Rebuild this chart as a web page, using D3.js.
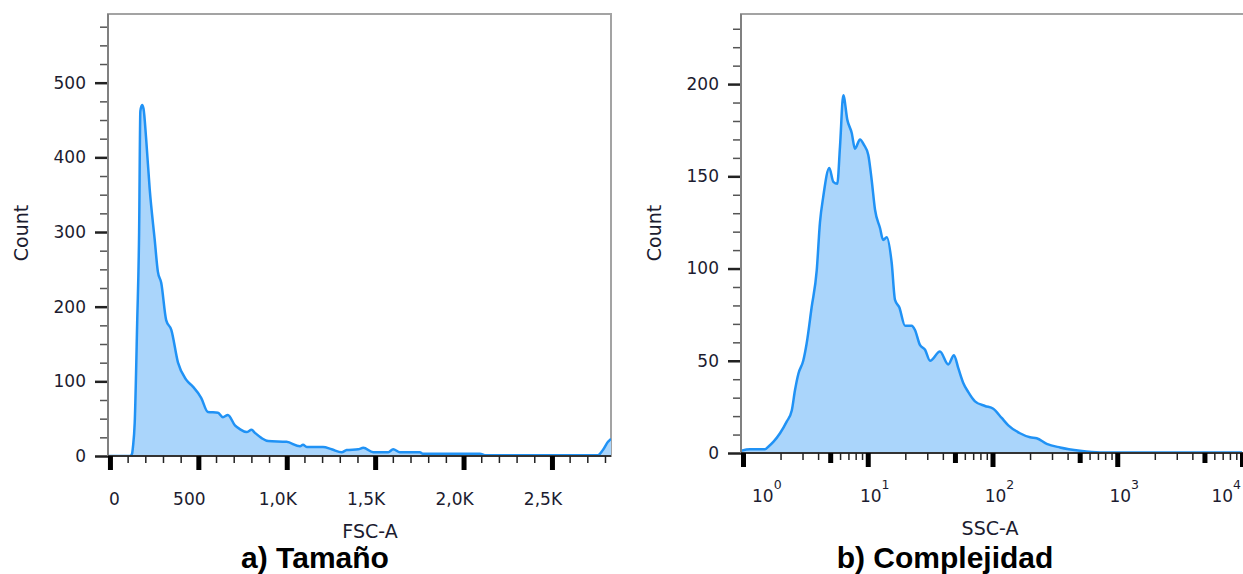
<!DOCTYPE html>
<html>
<head>
<meta charset="utf-8">
<script src="https://cdn.jsdelivr.net/npm/d3@7"></script>
<style>
  body { margin: 0; background: #fff; }
  svg { display: block; }
  .tick-label { font-family: "DejaVu Sans", sans-serif; font-size: 17px; fill: #1c1c30; }
  .axis-title { font-family: "DejaVu Sans", sans-serif; font-size: 19px; fill: #1c1c30; }
  .panel-title { font-family: "Liberation Sans", Arial, sans-serif; font-size: 30px; font-weight: bold; fill: #000; }
</style>
</head>
<body>
<div id="chart"></div>
<script>
// FSC-A histogram (linear channel values / counts)
const fscValues = [-11, 60, 113, 125, 130, 140, 154, 165, 172, 182, 190, 205, 225, 253, 271, 290, 318, 347, 385, 432,
  469, 516, 554, 611, 639, 667, 707, 735, 773, 801, 820, 858, 895, 999, 1075, 1092, 1113, 1205, 1254, 1311,
  1339, 1404, 1433, 1489, 1574, 1602, 1640, 1753, 1770, 2093, 2121, 2760, 2788, 2817, 2834];
const fscCounts = [0, 0, 0, 3, 12, 44, 178, 300, 462, 470, 465, 424, 357, 290, 247, 232, 182, 169, 125, 102,
  93, 78, 59, 58, 52, 55, 41, 36, 32, 35, 31, 24, 20, 19, 13, 15, 12, 12, 9, 5,
  8, 9, 11, 5, 5, 9, 5, 5, 3, 3, 1, 1, 8, 19, 23];

// SSC-A histogram (log channel values / counts)
const sscValues = [0.965, 1.138, 1.50, 1.595, 1.75, 1.98, 2.24, 2.46, 2.61, 2.78, 3.04, 3.24, 3.55, 3.90, 4.14, 4.40,
  4.92, 5.30, 5.70, 5.99, 6.37, 6.86, 7.44, 7.90, 8.67, 9.33, 10.1, 10.75, 11.43, 12.54, 13.3, 14.19, 15.56, 16.54,
  17.9, 19.9, 22.5, 23.9, 26.2, 28.8, 31.6, 37.9, 44.2, 49.1, 53.2, 58.3, 64.0, 72.4, 87.1, 101.5, 118.5, 133.9,
  166, 200, 226, 272, 348, 503, 727, 10000];
const sscCounts = [1.2, 2, 2, 3.4, 6, 10.7, 17, 23, 34, 43, 50, 59.5, 79, 99, 125, 139,
  154.5, 147, 146, 166, 194, 180.6, 173.5, 165, 170, 167, 161.6, 148, 132, 122, 115.5, 117, 103, 83,
  79, 69, 69, 66.7, 58.6, 56, 50, 55, 48, 53, 46, 38, 33, 28, 25.5, 24, 19, 15,
  10.7, 8.5, 8, 5, 3, 1.2, 0.3, 0.3];

// ticks
const fscTicks = [0, 500, 1000, 1500, 2000, 2500];
const fscTickLabels = ['0', '500', '1,0K', '1,5K', '2,0K', '2,5K'];
const fscCountTicks = [0, 100, 200, 300, 400, 500];
const sscTicks = [1, 10, 100, 1000, 10000];
const sscTickExponents = ['0', '1', '2', '3', '4'];
const sscCountTicks = [0, 50, 100, 150, 200];

const lineColor = '#2092f5';
const fillColor = '#aad5fb';

const $svg = d3.select('#chart').append('svg')
  .attr('width', 1243)
  .attr('height', 574);

// ---------- panel a) ----------
const a = { left: 108, top: 14, right: 611, bottom: 456 };

const xA = d3.scaleLinear().domain([-11, 2834]).range([a.left, a.right]);
const yA = d3.scaleLinear().domain([0, 592]).range([a.bottom, a.top]);

const xMinorA = d3.range(100, 2900, 100).filter(v => v % 500 !== 0);
const yMinorA = d3.range(25, 600, 25).filter(v => v % 100 !== 0);

drawPanel({
  box: a, x: xA, y: yA,
  values: fscValues, counts: fscCounts,
  yMajor: fscCountTicks, yMinor: yMinorA,
  xMajor: fscTicks, xMid: [], xMinor: xMinorA,
  frameRight: a.right
});

// x tick labels, shifted left like the source software, first one kept inside the frame
fscTicks.forEach((v, i) => {
  const t = $svg.append('text').attr('class', 'tick-label').attr('y', 505).text(fscTickLabels[i]);
  const w = t.node().getComputedTextLength();
  t.attr('x', Math.max(xA(v) - 9 - w / 2, a.left + 1));
});

$svg.append('text').attr('class', 'axis-title')
  .attr('text-anchor', 'middle')
  .attr('transform', 'translate(28, 233) rotate(-90)')
  .text('Count');

$svg.append('text').attr('class', 'axis-title')
  .attr('text-anchor', 'middle')
  .attr('x', 370).attr('y', 538)
  .text('FSC-A');

$svg.append('text').attr('class', 'panel-title')
  .attr('text-anchor', 'middle')
  .attr('x', 315).attr('y', 568)
  .text('a) Tamaño');

// ---------- panel b) ----------
const b = { left: 741, top: 14, right: 1243, bottom: 453 };

const xB = d3.scaleLog().domain([Math.pow(10, -0.016), Math.pow(10, 4.008)]).range([b.left, b.right]);
const yB = d3.scaleLinear().domain([0, 238]).range([b.bottom, b.top]);

let xMinorB = [], xMidB = [];
[1, 10, 100, 1000].forEach(dec => {
  [2, 3, 4, 6, 7, 8, 9].forEach(m => xMinorB.push(m * dec));
  xMidB.push(5 * dec);
});
const yMinorB = d3.range(10, 240, 10).filter(v => v % 50 !== 0);

drawPanel({
  box: b, x: xB, y: yB,
  values: sscValues, counts: sscCounts,
  yMajor: sscCountTicks, yMinor: yMinorB,
  xMajor: sscTicks, xMid: xMidB, xMinor: xMinorB,
  frameRight: b.right + 10
});

// 10^n labels, kept inside the picture at both ends
sscTicks.forEach((v, i) => {
  const t = $svg.append('text').attr('class', 'tick-label').attr('y', 502);
  t.append('tspan').text('10');
  t.append('tspan').attr('dy', -13).style('font-size', '12.5px').text(sscTickExponents[i]);
  const w = t.node().getComputedTextLength();
  let x0 = Math.max(xB(v) + 7 - w / 2, b.left + 11);
  x0 = Math.min(x0, 1241 - w);
  t.attr('x', x0);
});

$svg.append('text').attr('class', 'axis-title')
  .attr('text-anchor', 'middle')
  .attr('transform', 'translate(661, 233) rotate(-90)')
  .text('Count');

$svg.append('text').attr('class', 'axis-title')
  .attr('text-anchor', 'middle')
  .attr('x', 990).attr('y', 535)
  .text('SSC-A');

$svg.append('text').attr('class', 'panel-title')
  .attr('text-anchor', 'middle')
  .attr('x', 945).attr('y', 568)
  .text('b) Complejidad');

function drawPanel(p) {
  const box = p.box;
  const $g = $svg.append('g');
  const clipId = 'clip' + box.left;

  $g.append('clipPath').attr('id', clipId)
    .append('rect')
    .attr('x', box.left).attr('y', box.top - 2)
    .attr('width', box.right - box.left).attr('height', box.bottom - box.top + 2);

  const pts = p.values.map((v, i) => [v, p.counts[i]]);

  const area = d3.area()
    .curve(d3.curveMonotoneX)
    .x(d => p.x(d[0]))
    .y0(p.y(0))
    .y1(d => p.y(d[1]));

  const line = d3.line()
    .curve(d3.curveMonotoneX)
    .x(d => p.x(d[0]))
    .y(d => p.y(d[1]));

  // frame
  $g.append('rect')
    .attr('x', box.left).attr('y', box.top)
    .attr('width', p.frameRight - box.left).attr('height', box.bottom - box.top)
    .style('fill', 'none')
    .style('stroke', '#a3a3a3')
    .style('stroke-width', 2);

  const $plot = $g.append('g').attr('clip-path', `url(#${clipId})`);

  $plot.append('path')
    .attr('d', area(pts))
    .style('fill', fillColor);

  // y axis
  $g.append('g')
    .attr('transform', `translate(${box.left}, 0)`)
    .call(d3.axisLeft(p.y).tickValues(p.yMinor).tickSize(8).tickFormat(''))
    .call(g => g.select('.domain').remove())
    .call(g => g.selectAll('line').style('stroke', '#555').style('stroke-width', 1.5));

  $g.append('g')
    .attr('transform', `translate(${box.left}, 0)`)
    .call(d3.axisLeft(p.y).tickValues(p.yMajor).tickSize(13).tickPadding(9))
    .call(g => g.select('.domain').remove())
    .call(g => g.selectAll('line').style('stroke', '#222').style('stroke-width', 2.5))
    .call(g => g.selectAll('text').attr('class', 'tick-label').attr('font-size', null).attr('font-family', null).attr('fill', null));

  $g.append('line')
    .attr('x1', box.left).attr('x2', box.left)
    .attr('y1', box.top).attr('y2', box.bottom)
    .style('stroke', '#808080')
    .style('stroke-width', 2);

  // x axis
  $g.append('line')
    .attr('x1', box.left).attr('x2', p.frameRight)
    .attr('y1', box.bottom).attr('y2', box.bottom)
    .style('stroke', '#333')
    .style('stroke-width', 2);

  $g.append('g')
    .attr('transform', `translate(0, ${box.bottom})`)
    .call(d3.axisBottom(p.x).tickValues(p.xMinor).tickSize(7).tickFormat(''))
    .call(g => g.select('.domain').remove())
    .call(g => g.selectAll('line').style('stroke', '#222').style('stroke-width', 1.5));

  if (p.xMid.length) {
    $g.append('g')
      .attr('transform', `translate(0, ${box.bottom})`)
      .call(d3.axisBottom(p.x).tickValues(p.xMid).tickSize(10).tickFormat(''))
      .call(g => g.select('.domain').remove())
      .call(g => g.selectAll('line').style('stroke', '#000').style('stroke-width', 5));
  }

  $g.append('g')
    .attr('transform', `translate(0, ${box.bottom})`)
    .call(d3.axisBottom(p.x).tickValues(p.xMajor).tickSize(14).tickFormat(''))
    .call(g => g.select('.domain').remove())
    .call(g => g.selectAll('line').style('stroke', '#000').style('stroke-width', 5));

  $plot.append('path')
    .attr('d', line(pts))
    .style('fill', 'none')
    .style('stroke', lineColor)
    .style('stroke-width', 2.5)
    .style('stroke-linejoin', 'round');
}
</script>
</body>
</html>
